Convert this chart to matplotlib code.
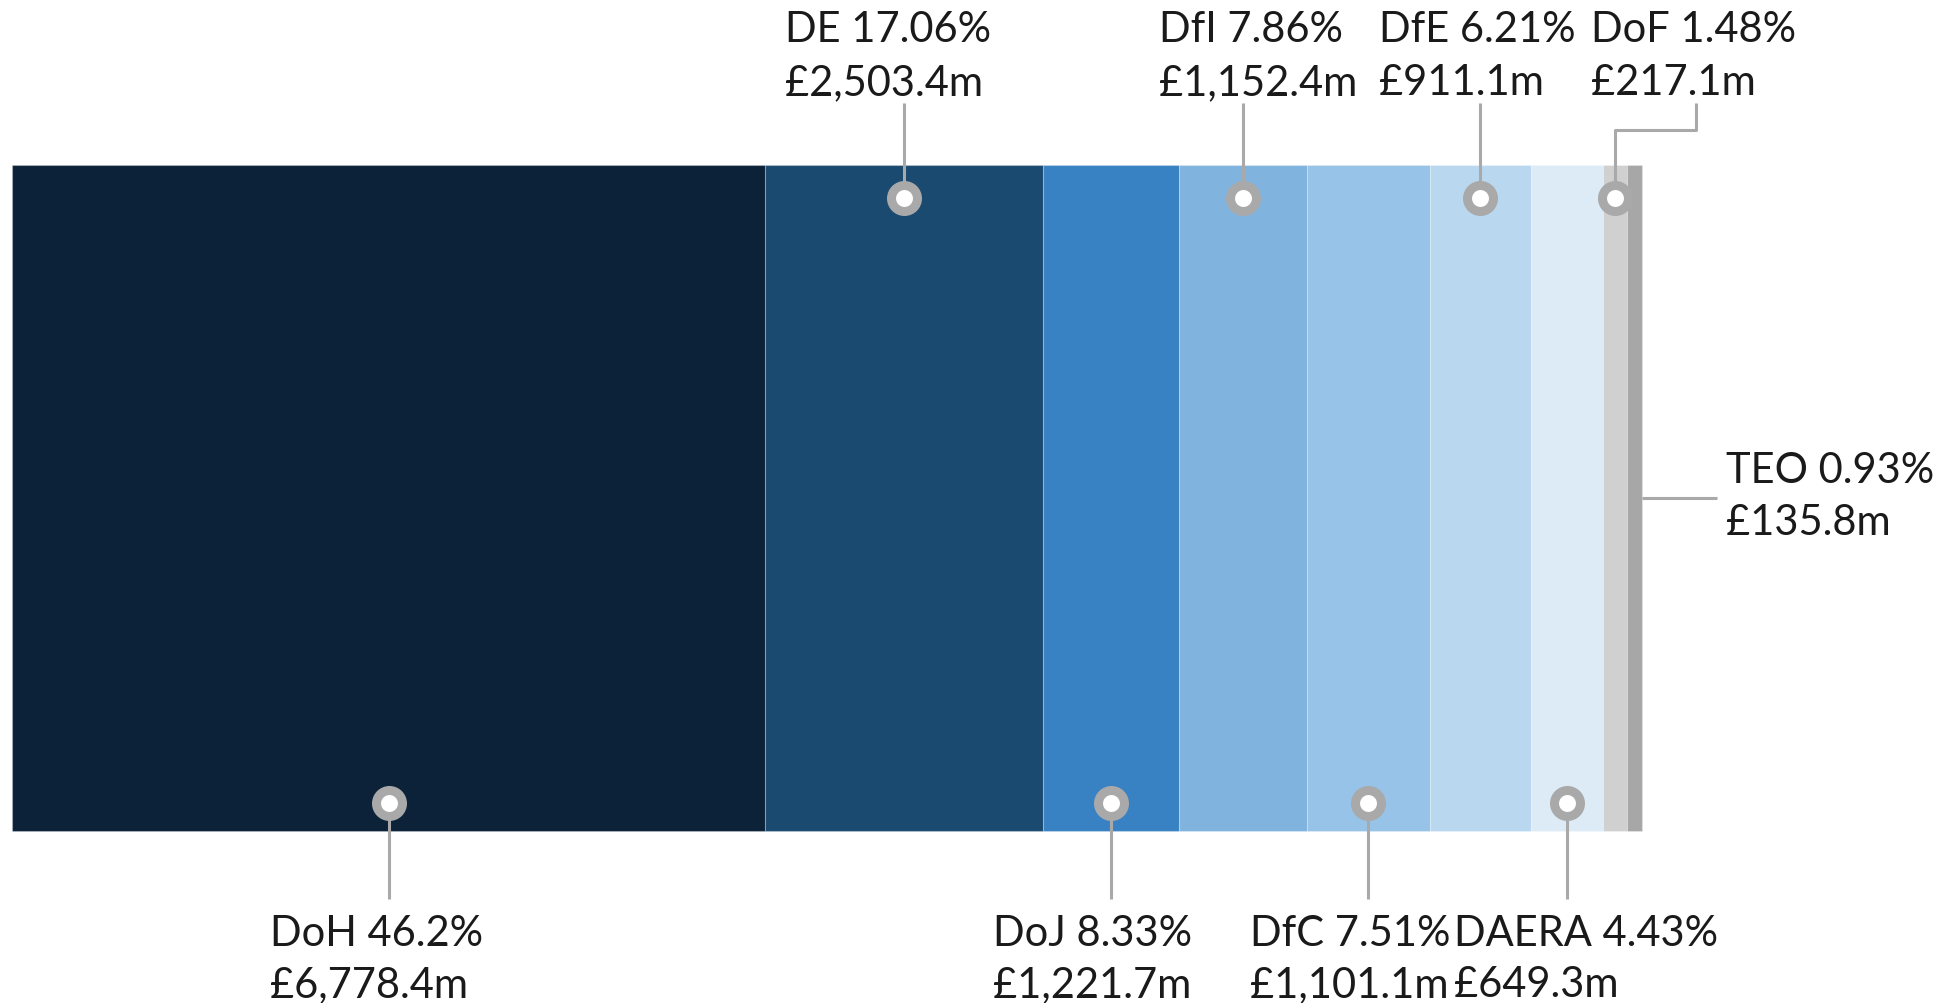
import matplotlib.pyplot as plt
import matplotlib.transforms as mtransforms

# Departmental share of spend
depts   = ["DoH", "DE", "DoJ", "DfI", "DfC", "DfE", "DAERA", "DoF", "TEO"]
shares  = [46.2, 17.06, 8.33, 7.86, 7.51, 6.21, 4.43, 1.48, 0.93]
amounts = [6778.4, 2503.4, 1221.7, 1152.4, 1101.1, 911.1, 649.3, 217.1, 135.8]
colors  = ["#0b2239", "#1b4a70", "#3882c3", "#80b3de", "#96c3e7",
           "#b9d8f0", "#ddebf6", "#d1d0d1", "#a7a7a8"]

# where each callout goes, and its text shift (pixels) from the marker
sides     = ["bottom", "top", "bottom", "top", "bottom", "top", "bottom", "top", "right"]
text_dx   = [-119, -119, -118, -84, -118, -101, -113, -24, 0]

RING  = "#a9a9a9"
TEXT  = "#1a1a1a"
FONT  = dict(family=["Lato", "DejaVu Sans"], weight="normal", size=30, color=TEXT)

fig = plt.figure(figsize=(19.54, 10.04), dpi=100)
ax = fig.add_axes([0, 0, 1, 1])
ax.axis("off")

# bar spans 0..100 between pixel 12.5 and 1642, height 0..1 between 832 and 166 (from top)
ppu = (1642 - 12.5) / 100.0
ax.set_xlim(-12.5 / ppu, (1954 - 12.5) / ppu)
ax.set_ylim(-(1004 - 832) / 666.0, 1 + 166 / 666.0)

lefts = []
acc = 0.0
for s in shares:
    lefts.append(acc)
    acc += s

ax.barh(0.5, shares, left=lefts, height=1.0, color=colors,
        edgecolor=(1, 1, 1, 0.25), linewidth=0.8)

line_kw = dict(color=RING, lw=2.2, solid_capstyle="butt", zorder=3)
mark_kw = dict(marker="o", ms=18.7, mfc="white", mec=RING, mew=6.5, zorder=4)

for i, name in enumerate(depts):
    cx = lefts[i] + shares[i] / 2.0
    line1 = f"{name} {shares[i]}%"
    line2 = f"£{amounts[i]:,.1f}m"
    side = sides[i]
    tr = mtransforms.offset_copy(ax.transData, fig=fig, x=text_dx[i], y=0, units="dots")

    if side == "top":
        my = 0.950
        if name == "DoF":
            ex = cx + (1696 - 1615) / ppu
            ax.plot([cx, cx, ex, ex], [my, 1.053, 1.053, 1.093], **line_kw)
        else:
            ax.plot([cx, cx], [my, 1.093], **line_kw)
        ax.plot(cx, my, **mark_kw)
        ax.text(cx, 1.186, line1, transform=tr, ha="left", va="baseline", **FONT)
        ax.text(cx, 1.107, line2, transform=tr, ha="left", va="baseline", **FONT)
    elif side == "bottom":
        my = 0.042
        ax.plot([cx, cx], [my, -0.102], **line_kw)
        ax.plot(cx, my, **mark_kw)
        ax.text(cx, -0.171, line1, transform=tr, ha="left", va="baseline", **FONT)
        ax.text(cx, -0.248, line2, transform=tr, ha="left", va="baseline", **FONT)
    else:
        x0 = lefts[i] + shares[i]
        x1 = x0 + (1717 - 1642) / ppu
        ax.plot([x0, x1], [0.5, 0.5], **line_kw)
        ax.text(x1 + 9 / ppu, 0.524, line1, ha="left", va="baseline", **FONT)
        ax.text(x1 + 9 / ppu, 0.446, line2, ha="left", va="baseline", **FONT)

fig.savefig("out.png", dpi=100, facecolor="white")
